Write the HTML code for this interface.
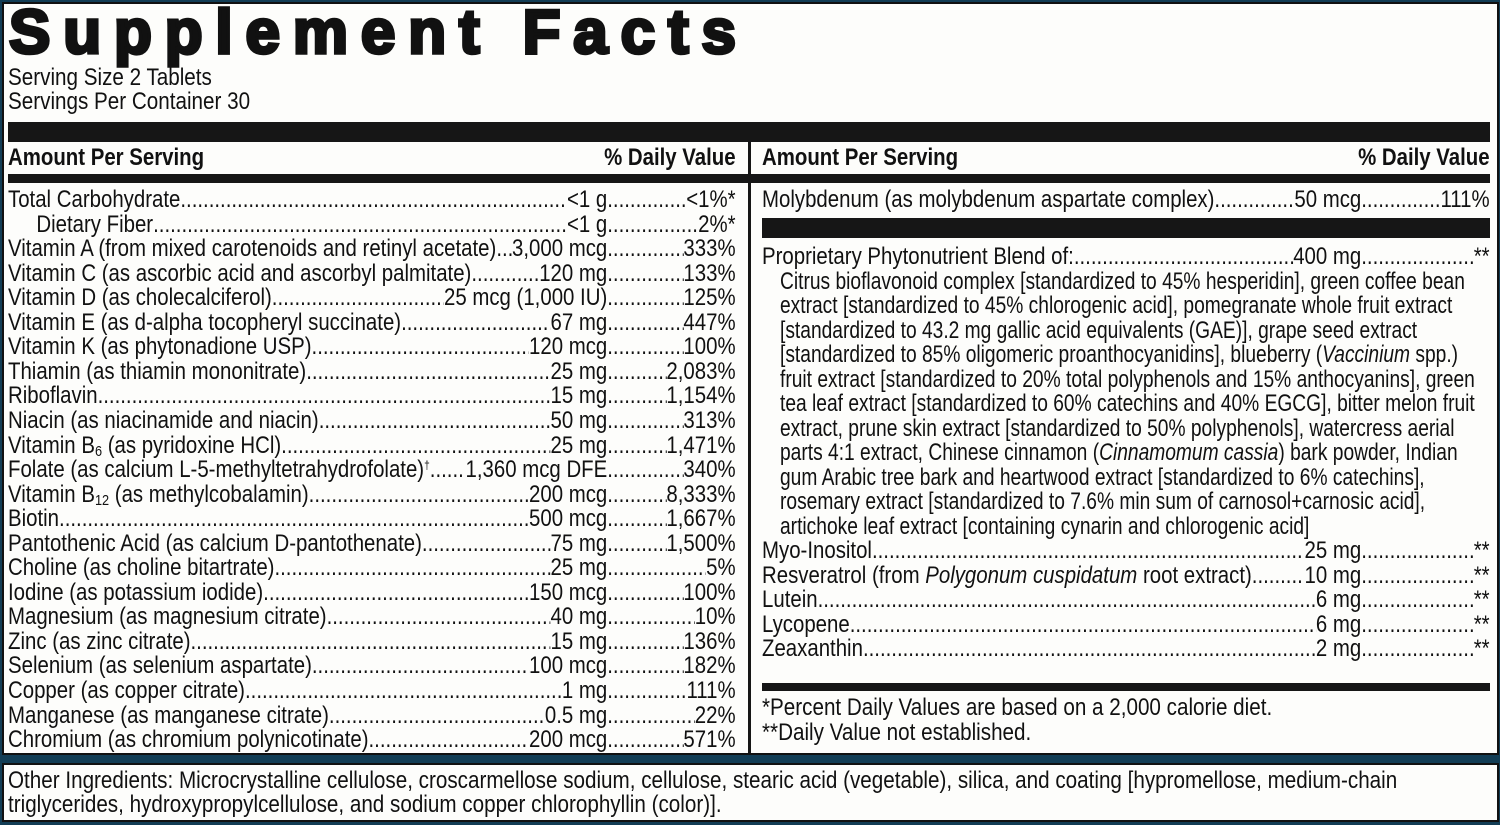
<!DOCTYPE html>
<html><head><meta charset="utf-8"><style>
body{margin:0;width:1500px;height:825px;background:#123d55;overflow:hidden;position:relative;font-family:"Liberation Sans",Arial,sans-serif;color:#111}
.box{position:absolute;background:#fdfdfb;border:2px solid #111;box-sizing:border-box}
.bar{position:absolute;background:#161616}
.r{position:absolute;height:25px;line-height:25px;font-size:24px;transform:scaleX(0.85);transform-origin:0 0;white-space:nowrap;display:flex;width:856px}
.t{position:absolute;height:25px;line-height:25px;font-size:24px;transform:scaleX(0.86);transform-origin:0 0;white-space:nowrap}
.p{transform:scaleX(0.8)}
.l{flex:1;overflow:hidden;white-space:nowrap}
.l::after{content:"................................................................................................................................................................................................................"}
.dv{width:151px;display:flex}
.b{font-weight:bold}
sub{font-size:15px;vertical-align:-3px;line-height:0}
sup{font-size:12px;line-height:0;vertical-align:8px}
</style></head><body>
<div class="box" style="left:2px;top:2px;width:1497px;height:753px"></div>
<div class="box" style="left:2px;top:763px;width:1497px;height:59px"></div>
<svg style="position:absolute;left:0;top:0" width="760" height="72"><text x="9" y="53" font-family="Liberation Sans" font-weight="bold" font-size="62" textLength="727" lengthAdjust="spacing" stroke="#111" stroke-width="3.5" fill="#111">Supplement Facts</text></svg>
<div class="t" style="left:8px;top:65px">Serving Size 2 Tablets</div>
<div class="t" style="left:8px;top:89px">Servings Per Container 30</div>
<div class="bar" style="left:8px;top:122px;width:1482px;height:20px"></div>
<div class="bar" style="left:8px;top:174px;width:1482px;height:9px"></div>
<div class="bar" style="left:748px;top:142px;width:3px;height:611px"></div>
<div class="bar" style="left:762px;top:218px;width:728px;height:20px"></div>
<div class="bar" style="left:762px;top:683px;width:728px;height:8px"></div>
<div class="r b" style="left:8px;top:145px"><span>Amount Per Serving</span><span style="flex:1"></span><span>% Daily Value</span></div>
<div class="r b" style="left:762px;top:145px"><span>Amount Per Serving</span><span style="flex:1"></span><span>% Daily Value</span></div>

<div class="r" style="left:8px;top:187px"><span>Total Carbohydrate </span><span class="l"></span><span>&lt;1 g</span><span class="dv"><span class="l"></span><span>&lt;1%*</span></span></div>
<div class="r" style="left:8px;top:211.5px"><span>&nbsp;&nbsp;&nbsp;&nbsp;&nbsp;Dietary Fiber</span><span class="l"></span><span>&lt;1 g</span><span class="dv"><span class="l"></span><span>2%*</span></span></div>
<div class="r" style="left:8px;top:236px"><span>Vitamin A (from mixed carotenoids and retinyl acetate)</span><span class="l"></span><span>3,000 mcg</span><span class="dv"><span class="l"></span><span> 333%</span></span></div>
<div class="r" style="left:8px;top:260.6px"><span>Vitamin C (as ascorbic acid and ascorbyl palmitate) </span><span class="l"></span><span>120 mg</span><span class="dv"><span class="l"></span><span> 133%</span></span></div>
<div class="r" style="left:8px;top:285.2px"><span>Vitamin D (as cholecalciferol)</span><span class="l"></span><span>25 mcg (1,000 IU)</span><span class="dv"><span class="l"></span><span> 125%</span></span></div>
<div class="r" style="left:8px;top:309.7px"><span>Vitamin E (as d-alpha tocopheryl succinate)</span><span class="l"></span><span>67 mg</span><span class="dv"><span class="l"></span><span> 447%</span></span></div>
<div class="r" style="left:8px;top:334.3px"><span>Vitamin K (as phytonadione USP)</span><span class="l"></span><span>120 mcg</span><span class="dv"><span class="l"></span><span> 100%</span></span></div>
<div class="r" style="left:8px;top:358.8px"><span>Thiamin (as thiamin mononitrate) </span><span class="l"></span><span>25 mg</span><span class="dv"><span class="l"></span><span> 2,083%</span></span></div>
<div class="r" style="left:8px;top:383.4px"><span>Riboflavin</span><span class="l"></span><span>15 mg</span><span class="dv"><span class="l"></span><span> 1,154%</span></span></div>
<div class="r" style="left:8px;top:407.9px"><span>Niacin (as niacinamide and niacin)</span><span class="l"></span><span>50 mg</span><span class="dv"><span class="l"></span><span> 313%</span></span></div>
<div class="r" style="left:8px;top:432.5px"><span>Vitamin B<sub>6</sub> (as pyridoxine HCl)</span><span class="l"></span><span>25 mg</span><span class="dv"><span class="l"></span><span> 1,471%</span></span></div>
<div class="r" style="left:8px;top:457px"><span>Folate (as calcium L-5-methyltetrahydrofolate)<sup>†</sup></span><span class="l"></span><span>1,360 mcg DFE</span><span class="dv"><span class="l"></span><span> 340%</span></span></div>
<div class="r" style="left:8px;top:481.6px"><span>Vitamin B<sub>12</sub> (as methylcobalamin)</span><span class="l"></span><span>200 mcg</span><span class="dv"><span class="l"></span><span> 8,333%</span></span></div>
<div class="r" style="left:8px;top:506.1px"><span>Biotin</span><span class="l"></span><span>500 mcg</span><span class="dv"><span class="l"></span><span> 1,667%</span></span></div>
<div class="r" style="left:8px;top:530.7px"><span>Pantothenic Acid (as calcium D-pantothenate)</span><span class="l"></span><span>75 mg</span><span class="dv"><span class="l"></span><span> 1,500%</span></span></div>
<div class="r" style="left:8px;top:555.2px"><span>Choline (as choline bitartrate) </span><span class="l"></span><span>25 mg</span><span class="dv"><span class="l"></span><span>5%</span></span></div>
<div class="r" style="left:8px;top:579.8px"><span>Iodine (as potassium iodide) </span><span class="l"></span><span>150 mcg</span><span class="dv"><span class="l"></span><span> 100%</span></span></div>
<div class="r" style="left:8px;top:604.3px"><span>Magnesium (as magnesium citrate)</span><span class="l"></span><span>40 mg</span><span class="dv"><span class="l"></span><span> 10%</span></span></div>
<div class="r" style="left:8px;top:628.9px"><span>Zinc (as zinc citrate)</span><span class="l"></span><span>15 mg</span><span class="dv"><span class="l"></span><span> 136%</span></span></div>
<div class="r" style="left:8px;top:653.4px"><span>Selenium (as selenium aspartate)</span><span class="l"></span><span>100 mcg</span><span class="dv"><span class="l"></span><span> 182%</span></span></div>
<div class="r" style="left:8px;top:678px"><span>Copper (as copper citrate)</span><span class="l"></span><span>1 mg</span><span class="dv"><span class="l"></span><span> 111%</span></span></div>
<div class="r" style="left:8px;top:702.5px"><span>Manganese (as manganese citrate) </span><span class="l"></span><span>0.5 mg</span><span class="dv"><span class="l"></span><span> 22%</span></span></div>
<div class="r" style="left:8px;top:727px"><span>Chromium (as chromium polynicotinate)</span><span class="l"></span><span>200 mcg</span><span class="dv"><span class="l"></span><span> 571%</span></span></div>

<div class="r" style="left:762px;top:187px"><span>Molybdenum (as molybdenum aspartate complex) </span><span class="l"></span><span>50 mcg</span><span class="dv"><span class="l"></span><span> 111%</span></span></div>
<div class="r" style="left:762px;top:244px"><span>Proprietary Phytonutrient Blend of: </span><span class="l"></span><span>400 mg</span><span class="dv"><span class="l"></span><span>**</span></span></div>
<div class="t p" style="left:780px;top:268.5px">Citrus bioflavonoid complex [standardized to 45% hesperidin], green coffee bean</div>
<div class="t p" style="left:780px;top:293px">extract [standardized to 45% chlorogenic acid], pomegranate whole fruit extract</div>
<div class="t p" style="left:780px;top:317.5px">[standardized to 43.2 mg gallic acid equivalents (GAE)], grape seed extract</div>
<div class="t p" style="left:780px;top:342px">[standardized to 85% oligomeric proanthocyanidins], blueberry (<i>Vaccinium</i> spp.)</div>
<div class="t p" style="left:780px;top:366.5px">fruit extract [standardized to 20% total polyphenols and 15% anthocyanins], green</div>
<div class="t p" style="left:780px;top:391px">tea leaf extract [standardized to 60% catechins and 40% EGCG], bitter melon fruit</div>
<div class="t p" style="left:780px;top:415.5px">extract, prune skin extract [standardized to 50% polyphenols], watercress aerial</div>
<div class="t p" style="left:780px;top:440px">parts 4:1 extract, Chinese cinnamon (<i>Cinnamomum cassia</i>) bark powder, Indian</div>
<div class="t p" style="left:780px;top:464.5px">gum Arabic tree bark and heartwood extract [standardized to 6% catechins],</div>
<div class="t p" style="left:780px;top:489px">rosemary extract [standardized to 7.6% min sum of carnosol+carnosic acid],</div>
<div class="t p" style="left:780px;top:513.5px">artichoke leaf extract [containing cynarin and chlorogenic acid]</div>
<div class="r" style="left:762px;top:538px"><span>Myo-Inositol</span><span class="l"></span><span>25 mg</span><span class="dv"><span class="l"></span><span>**</span></span></div>
<div class="r" style="left:762px;top:562.5px"><span>Resveratrol (from <i>Polygonum cuspidatum</i> root extract)</span><span class="l"></span><span>10 mg</span><span class="dv"><span class="l"></span><span>**</span></span></div>
<div class="r" style="left:762px;top:587px"><span>Lutein</span><span class="l"></span><span>6 mg</span><span class="dv"><span class="l"></span><span>**</span></span></div>
<div class="r" style="left:762px;top:611.5px"><span>Lycopene</span><span class="l"></span><span>6 mg</span><span class="dv"><span class="l"></span><span>**</span></span></div>
<div class="r" style="left:762px;top:636px"><span>Zeaxanthin</span><span class="l"></span><span>2 mg</span><span class="dv"><span class="l"></span><span>**</span></span></div>
<div class="t" style="left:762px;top:695px">*Percent Daily Values are based on a 2,000 calorie diet.</div>
<div class="t" style="left:762px;top:720px">**Daily Value not established.</div>
<div class="t" style="left:8px;top:768px">Other Ingredients: Microcrystalline cellulose, croscarmellose sodium, cellulose, stearic acid (vegetable), silica, and coating [hypromellose, medium-chain</div>
<div class="t" style="left:8px;top:792px">triglycerides, hydroxypropylcellulose, and sodium copper chlorophyllin (color)].</div>
</body></html>
